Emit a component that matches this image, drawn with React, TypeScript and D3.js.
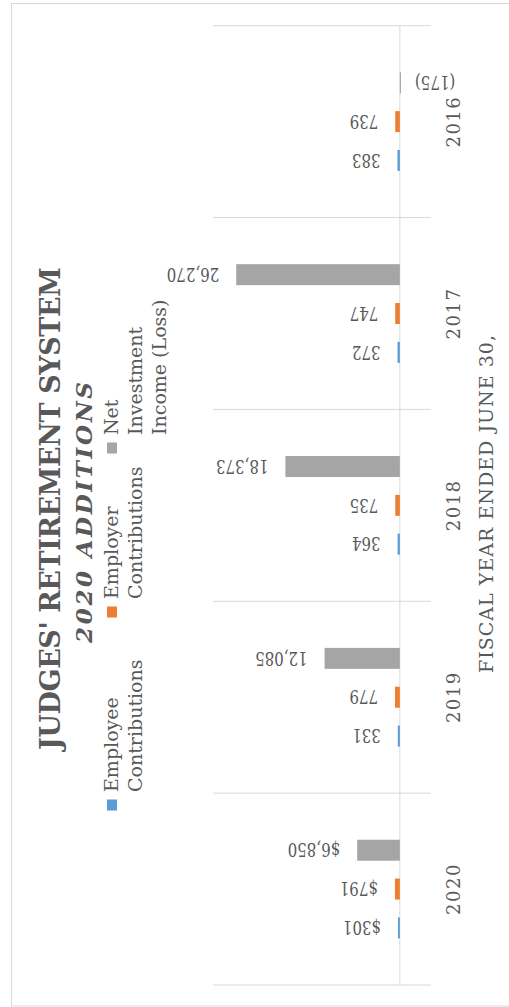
import React, { useEffect, useRef } from 'react';
import * as d3 from 'd3';

const years = ['2016', '2017', '2018', '2019', '2020'];
const employeeContrib = [383, 372, 364, 331, 301];
const employerContrib = [739, 747, 735, 779, 791];
const netInvestment = [-175, 26270, 18373, 12085, 6850];
const dollarYears = ['2020'];

const seriesKeys = ['net', 'employer', 'employee'];
const seriesColors = ['#A5A5A5', '#ED7D31', '#5B9BD5'];
const legendLines = [
  ['Net', 'Investment', 'Income (Loss)'],
  ['Employer', 'Contributions'],
  ['Employee', 'Contributions'],
];
const valueDomain = [-5000, 30000];

const titleText = "JUDGES' RETIREMENT SYSTEM";
const subtitleText = '2020 ADDITIONS';
const axisTitle = 'FISCAL YEAR ENDED JUNE 30,';

const FONT = '"DejaVu Serif", serif';
const TEXT = '#595959';
const GRID = '#D9D9D9';

export default function App() {
  const ref = useRef<SVGSVGElement>(null);

  useEffect(() => {
    const svg = d3.select(ref.current);
    svg.selectAll('*').remove();

    // outer chart border
    svg.append('rect')
      .attr('x', 11.5).attr('y', 3.5)
      .attr('width', 520).attr('height', 1002.5)
      .attr('fill', '#fff').attr('stroke', GRID);

    // chart is rotated: categories run down the page, values grow to the left
    const y = d3.scaleBand().domain(years).range([25.7, 985]);
    const inner = d3.scaleBand().domain(seriesKeys).range([0, y.bandwidth()])
      .paddingInner(0.46).paddingOuter(1.2);
    const x = d3.scaleLinear().domain(valueDomain).range([431, 213]);

    const values: Record<string, number[]> = {
      net: netInvestment,
      employer: employerContrib,
      employee: employeeContrib,
    };

    const g = svg.append('g');

    // category separators
    const bounds = years.map((d) => y(d) as number).concat([(y(years[years.length - 1]) as number) + y.bandwidth()]);
    g.selectAll('line.sep').data(bounds).enter().append('line')
      .attr('class', 'sep')
      .attr('x1', x.range()[1]).attr('x2', x.range()[0])
      .attr('y1', (d) => d).attr('y2', (d) => d)
      .attr('stroke', GRID).attr('stroke-width', 1);

    // zero axis
    g.append('line')
      .attr('x1', x(0)).attr('x2', x(0))
      .attr('y1', y.range()[0]).attr('y2', y.range()[1])
      .attr('stroke', GRID).attr('stroke-width', 1);

    const fmt = d3.format(',');
    const label = (v: number, yr: string) => {
      let s = fmt(Math.abs(v));
      if (dollarYears.includes(yr)) s = '$' + s;
      return v < 0 ? '(' + s + ')' : s;
    };

    seriesKeys.forEach((key, si) => {
      const rows = years.map((yr, i) => ({ yr, v: values[key][i] }));
      g.selectAll('rect.b' + key).data(rows).enter().append('rect')
        .attr('class', 'b' + key)
        .attr('x', (d) => x(Math.max(0, d.v)))
        .attr('width', (d) => Math.max(1, Math.abs(x(d.v) - x(0))))
        .attr('y', (d) => (y(d.yr) as number) + (inner(key) as number))
        .attr('height', inner.bandwidth())
        .attr('fill', seriesColors[si]);

      g.selectAll('text.l' + key).data(rows).enter().append('text')
        .attr('class', 'l' + key)
        .attr('transform', (d) => {
          const cy = (y(d.yr) as number) + (inner(key) as number) + inner.bandwidth() / 2;
          const cx = d.v < 0 ? x(d.v) + 14 : x(d.v) - 17;
          return `translate(${cx},${cy}) rotate(180) scale(1,1.25)`;
        })
        .attr('dy', '0.36em')
        .attr('text-anchor', (d) => (d.v < 0 ? 'end' : 'start'))
        .attr('font-family', FONT).attr('font-size', 15)
        .attr('fill', TEXT)
        .text((d) => label(d.v, d.yr));
    });

    // category labels
    g.selectAll('text.yr').data(years).enter().append('text')
      .attr('class', 'yr')
      .attr('transform', (d) => `translate(460,${(y(d) as number) + y.bandwidth() / 2}) rotate(-90)`)
      .attr('text-anchor', 'middle')
      .attr('font-family', FONT).attr('font-size', 18)
      .attr('letter-spacing', 1.5)
      .attr('fill', TEXT)
      .text((d) => d);

    // axis title
    svg.append('text')
      .attr('transform', `translate(493,504) rotate(-90)`)
      .attr('text-anchor', 'middle')
      .attr('font-family', FONT).attr('font-size', 19)
      .attr('textLength', 338).attr('lengthAdjust', 'spacing')
      .attr('fill', TEXT)
      .text(axisTitle);

    // title
    svg.append('text')
      .attr('transform', `translate(60,508.5) rotate(-90)`)
      .attr('text-anchor', 'middle')
      .attr('font-family', FONT).attr('font-size', 27).attr('font-weight', 'bold')
      .attr('textLength', 483).attr('lengthAdjust', 'spacing')
      .attr('fill', TEXT)
      .text(titleText);
    svg.append('text')
      .attr('transform', `translate(92,512.5) rotate(-90)`)
      .attr('text-anchor', 'middle')
      .attr('font-family', FONT).attr('font-size', 23).attr('font-weight', 'bold')
      .attr('font-style', 'italic')
      .attr('textLength', 261).attr('lengthAdjust', 'spacing')
      .attr('fill', TEXT)
      .text(subtitleText);

    // legend (marker centres along the page, bottom-most entry is the first series)
    const legendY = [448, 612, 805];
    const legend = svg.append('g');
    seriesKeys.forEach((key, si) => {
      const cy = legendY[si];
      legend.append('rect')
        .attr('x', 107).attr('y', cy - 5.5)
        .attr('width', 10).attr('height', 11)
        .attr('fill', seriesColors[si]);
      legendLines[si].forEach((line, li) => {
        legend.append('text')
          .attr('transform', `translate(${118 + li * 24},${cy - 13}) rotate(-90)`)
          .attr('text-anchor', 'start')
          .attr('font-family', FONT).attr('font-size', 19)
          .attr('fill', TEXT)
          .text(line);
      });
    });
  }, []);

  return (
    <svg ref={ref} width={509} height={1007}
      style={{ position: 'absolute', left: 0, top: 0, display: 'block' }} />
  );
}
